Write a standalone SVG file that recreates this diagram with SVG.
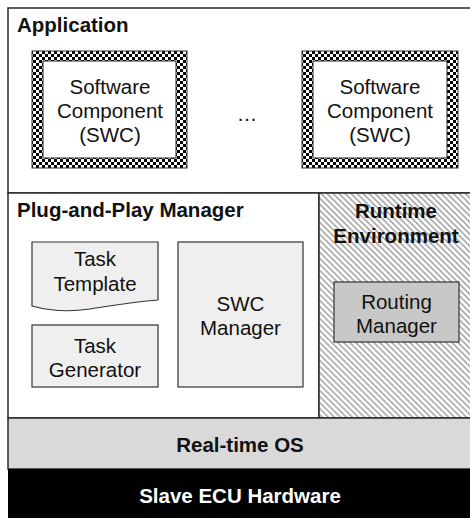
<svg xmlns="http://www.w3.org/2000/svg" width="470" height="518" viewBox="0 0 470 518">
<defs>
<pattern id="checker" patternUnits="userSpaceOnUse" width="6" height="6">
<rect width="6" height="6" fill="#000"/>
<rect x="0" y="0" width="3" height="3" fill="#fff"/>
<rect x="3" y="3" width="3" height="3" fill="#fff"/>
</pattern>
<pattern id="hatch" patternUnits="userSpaceOnUse" width="4.25" height="10" patternTransform="rotate(-45)">
<rect width="4.25" height="10" fill="#fff"/>
<rect width="1.8" height="10" fill="#b0b0b0"/>
</pattern>
</defs>
<style>
.sec{stroke:#2a2a2a;stroke-width:1.5}
.box{fill:#efefef;stroke:#333;stroke-width:1.2}
.t{font-family:"Liberation Sans",Arial,sans-serif;font-size:20.5px;fill:#111;text-anchor:middle}
.b{font-family:"Liberation Sans",Arial,sans-serif;font-size:20.5px;font-weight:bold;fill:#111}
.c{text-anchor:middle}
</style>
<g id="application">
<rect class="sec" x="8" y="8" width="463" height="185" fill="#fff"/>
<text class="b" x="17" y="32">Application</text>
</g>
<g id="swc1">
<rect x="32" y="51" width="155" height="117" fill="url(#checker)" stroke="#333" stroke-width="1"/>
<rect x="43" y="61" width="133" height="97" fill="#fff" stroke="#222" stroke-width="1"/>
<text class="t" x="110" y="94">Software</text>
<text class="t" x="110" y="118">Component</text>
<text class="t" x="110" y="142">(SWC)</text>
</g>
<g id="dots">
<text class="t" x="247" y="121">…</text>
</g>
<g id="swc2">
<rect x="302" y="51" width="156" height="117" fill="url(#checker)" stroke="#333" stroke-width="1"/>
<rect x="313" y="61" width="134" height="97" fill="#fff" stroke="#222" stroke-width="1"/>
<text class="t" x="380" y="94">Software</text>
<text class="t" x="380" y="118">Component</text>
<text class="t" x="380" y="142">(SWC)</text>
</g>
<g id="pnp">
<rect class="sec" x="8" y="193" width="311" height="225" fill="#fff"/>
<text class="b" x="17" y="217">Plug-and-Play Manager</text>
</g>
<g id="task-template">
<path class="box" d="M32,242 H158 V300 C130,302 110,306 90,309 C70,312 50,311 32,306 Z"/>
<text class="t" x="95" y="266">Task</text>
<text class="t" x="95" y="291">Template</text>
</g>
<g id="task-generator">
<rect class="box" x="32" y="325" width="126" height="62"/>
<text class="t" x="95" y="353">Task</text>
<text class="t" x="95" y="377">Generator</text>
</g>
<g id="swc-manager">
<rect class="box" x="178" y="242" width="125" height="145"/>
<text class="t" x="240.5" y="311">SWC</text>
<text class="t" x="240.5" y="335">Manager</text>
</g>
<g id="runtime">
<rect class="sec" x="319" y="193" width="152" height="225" fill="url(#hatch)"/>
<text class="b c" x="396" y="218">Runtime</text>
<text class="b c" x="396" y="243">Environment</text>
</g>
<g id="routing-manager">
<rect x="334" y="282" width="125" height="60" fill="#c8c8c8" stroke="#333" stroke-width="1.2"/>
<text class="t" x="396.5" y="309">Routing</text>
<text class="t" x="396.5" y="333">Manager</text>
</g>
<g id="rtos">
<rect class="sec" x="8" y="418" width="463" height="51" fill="#d9d9d9"/>
<text class="b c" x="240" y="452">Real-time OS</text>
</g>
<g id="hardware">
<rect x="8" y="469" width="463" height="50" fill="#000"/>
<text class="b c" x="240" y="503" style="fill:#fff">Slave ECU Hardware</text>
</g>
<g id="connectors"></g>
</svg>
